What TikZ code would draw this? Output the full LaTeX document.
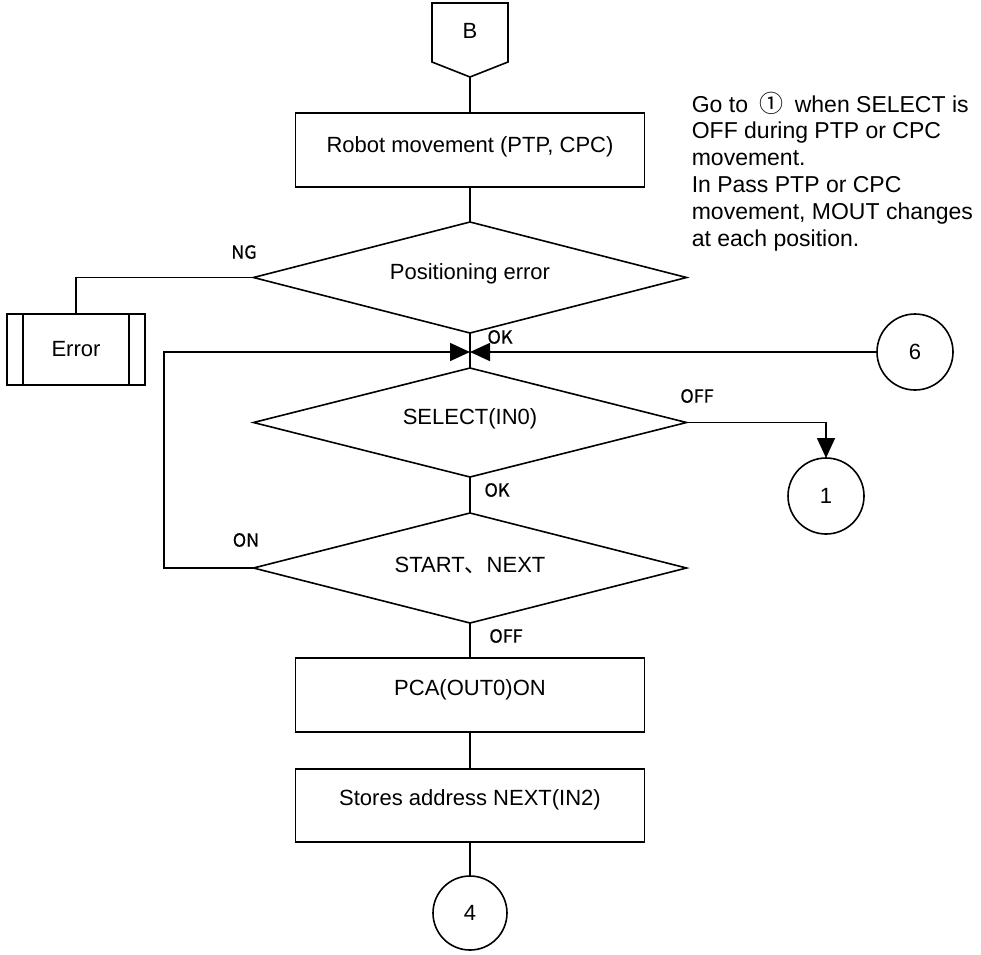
\documentclass[tikz,border=0pt]{standalone}
\usepackage{fontspec}
\setmainfont{Liberation Sans}
\newfontfamily\labfont{Noto Sans CJK JP}
\newfontfamily\labfontb{Noto Sans CJK JP}[FakeBold=0.8]
\usetikzlibrary{shapes.geometric,arrows.meta}
\begin{document}
\begin{tikzpicture}[x=1pt,y=-1pt,
  line width=1.6pt,
  boxtext/.style={font=\fontsize{22}{26}\selectfont, inner sep=0},
  procbox/.style={draw, rectangle, minimum width=349pt, inner sep=0, outer sep=0},
  decision/.style={draw, diamond, aspect=3.9, minimum width=433pt, inner sep=0, outer sep=0},
  conn/.style={draw, circle, inner sep=0, outer sep=0, font=\fontsize{22}{26}\selectfont},
  lbl/.style={font=\labfontb\fontsize{18}{20}\selectfont, inner sep=0},
  arr/.style={-{Triangle[length=20pt,width=18pt]}},
]
\useasboundingbox (0,0) rectangle (981,954);

% terminal B
\draw[line join=miter] (432,3) -- (508,3) -- (508,62) -- (470,77) -- (432,62) -- cycle;
\node[boxtext] (B) at (470,31) {B};
\coordinate (Bbot) at (470,77);

% process boxes
\node[procbox, minimum height=74pt, label={[boxtext,yshift=3pt]center:Robot movement (PTP, CPC)}] (robot) at (470,150) {};
\node[procbox, minimum height=74pt, label={[boxtext,yshift=5pt]center:PCA(OUT0)ON}] (pca) at (470,695) {};
\node[procbox, minimum height=73pt, label={[boxtext,yshift=6pt]center:Stores address NEXT(IN2)}] (stores) at (470,805.5) {};

% decisions
\node[decision, minimum height=111pt, label={[boxtext,yshift=4pt]center:Positioning error}] (pos) at (470,277.5) {};
\node[decision, minimum height=109pt, label={[boxtext,yshift=4pt]center:SELECT(IN0)}] (select) at (470,422.5) {};
\node[decision, minimum height=110pt, label={[boxtext,yshift=3pt]center:START{\labfont 、}NEXT}] (start) at (470,568) {};

% error (predefined process)
\node[draw, rectangle, minimum width=138pt, minimum height=71pt, inner sep=0, outer sep=0, font=\fontsize{22}{26}\selectfont] (error) at (76,349.5) {Error};
\draw ([xshift=16pt]error.north west) -- ([xshift=16pt]error.south west);
\draw ([xshift=-16pt]error.north east) -- ([xshift=-16pt]error.south east);

% connectors (circles)
\node[conn, minimum size=76pt] (c6) at (915,352) {6};
\node[conn, minimum size=76pt] (c1) at (826,496) {1};
\node[conn, minimum size=74pt] (c4) at (470,913) {4};

% helper coordinates
\coordinate (J) at (470,352);
\coordinate (loopc) at (164,568);

% connectors
\draw (Bbot) -- (robot.north);
\draw (robot.south) -- (pos.north);
\draw (pos.west) -| (error.north);
\draw (pos.south) -- (select.north);
\draw[arr] (start.west) -- (loopc) |- (J);
\draw[arr] (c6.west) -- (J);
\draw[arr] (select.east) -| (c1.north);
\draw (select.south) -- (start.north);
\draw (start.south) -- (pca.north);
\draw (pca.south) -- (stores.north);
\draw (stores.south) -- (c4.north);

% labels
\node[lbl] (lNG) at (244,252) {NG};
\node[lbl] (lOK1) at (500,337) {OK};
\node[lbl] (lOFF1) at (697,396) {OFF};
\node[lbl] (lOK2) at (497,490) {OK};
\node[lbl] (lON) at (246,540) {ON};
\node[lbl] (lOFF2) at (506,636) {OFF};

% note
\node[font=\fontsize{23}{26.8}\selectfont, align=left, anchor=north west, inner sep=0] (note) at (691,91)
 {Go to\hspace{5pt} {\labfont\fontsize{24}{26}\selectfont ①}\hspace{5pt} when SELECT is\\OFF during PTP or CPC\\movement.\\In Pass PTP or CPC\\movement, MOUT changes\\at each position.};
\end{tikzpicture}
\end{document}
